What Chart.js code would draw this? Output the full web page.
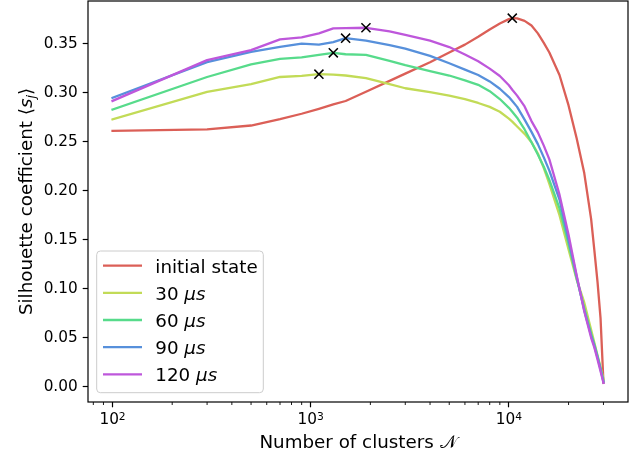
<!DOCTYPE html>
<html>
<head>
<meta charset="utf-8">
<script src="https://cdn.jsdelivr.net/npm/chart.js@4.4.1/dist/chart.umd.min.js"></script>
<style>
  html, body { margin: 0; padding: 0; background: #fff; }
  #wrap { width: 638px; height: 457px; }
</style>
</head>
<body>
<div id="wrap"><canvas id="c" width="638" height="457"></canvas></div>
<script>
// Number of clusters at which the silhouette coefficient was evaluated
const clusters = [100, 300, 500, 700, 900, 1100, 1300, 1500, 1900, 2500, 3000, 4000, 5000,
  6000, 7000, 8000, 9000, 10000, 10400, 11000, 12000, 13000, 14000, 15000, 16000, 18000,
  20000, 22000, 24000, 26000, 27000, 28000, 29000, 30000];

// Mean silhouette coefficient <s_j> per state (null = not evaluated)
const initialState = [0.261, 0.2625, 0.2665, 0.273, 0.2785, 0.2835, 0.288, 0.2915, 0.301, 0.312,
  0.3194, 0.331, 0.341, 0.349, 0.357, 0.3645, 0.3705, 0.375, 0.376, 0.3757, 0.3732, 0.3685,
  0.3605, 0.3508, 0.341, 0.318, 0.287, 0.253, 0.218, 0.171, 0.139, 0.107, 0.070, 0.004];
const us30 = [0.2727, 0.3008, 0.3087, 0.316, 0.3172, 0.3189, 0.3185, 0.3175, 0.3148, 0.3088,
  0.3045, 0.3005, 0.297, 0.2935, 0.2895, 0.2855, 0.2805, 0.2735, 0.2705, 0.2655, 0.258, 0.2495,
  0.238, 0.223, 0.207, 0.175, 0.140, 0.109, 0.086, null, null, null, null, 0.008];
const us60 = [0.2828, 0.316, 0.3288, 0.3345, 0.336, 0.3385, 0.3406, 0.3392, 0.3385, 0.3325,
  0.328, 0.322, 0.3175, 0.3125, 0.308, 0.3015, 0.2935, 0.2845, 0.2805, 0.2745, 0.2625, 0.2495,
  0.237, 0.2245, 0.211, 0.182, 0.146, 0.110, 0.080, 0.054, 0.043, 0.031, 0.019, 0.006];
const us90 = [0.2947, 0.3311, 0.3416, 0.3467, 0.35, 0.349, 0.3515, 0.3556, 0.353, 0.3485,
  0.345, 0.3375, 0.330, 0.3235, 0.318, 0.3115, 0.304, 0.2955, 0.2915, 0.2855, 0.2725, 0.260,
  0.2475, 0.234, 0.2205, 0.191, 0.150, 0.112, 0.078, 0.052, 0.0415, 0.030, 0.018, 0.005];
const us120 = [0.2916, 0.3332, 0.3434, 0.3543, 0.3563, 0.3605, 0.3655, 0.3658, 0.3662, 0.3625,
  0.359, 0.353, 0.3465, 0.339, 0.332, 0.3245, 0.317, 0.3075, 0.303, 0.297, 0.286, 0.271,
  0.2595, 0.246, 0.232, 0.196, 0.155, 0.113, 0.077, 0.050, 0.040, 0.028, 0.016, 0.004];

const seriesNames = ['initial state', '30 ', '60 ', '90 ', '120 '];
const seriesUnits = ['', 'μs', 'μs', 'μs', 'μs'];
const seriesValues = [initialState, us30, us60, us90, us120];
const seriesColors = ['#db5f57', '#c2db57', '#57db8b', '#5790db', '#be57db'];

// Axis ticks
const xMajorTicks = [100, 1000, 10000];
const xMajorExp = ['2', '3', '4'];
const xMinorTicks = [80, 90, 200, 300, 400, 500, 600, 700, 800, 900, 2000, 3000, 4000, 5000,
  6000, 7000, 8000, 9000, 20000, 30000];
const yTicks = [0.00, 0.05, 0.10, 0.15, 0.20, 0.25, 0.30, 0.35];

const X_MIN = 75.2, X_MAX = 39900;
const Y_MIN = -0.0155, Y_MAX = 0.3935;
const FONT = "'DejaVu Sans'";
const TICK_PX = 15.3, LABEL_PX = 18.3;
const PLOT_TOP = 1;

function toPoints(vals) {
  return clusters.map((n, i) => ({ x: n, y: vals[i] })).filter(p => p.y !== null);
}

// maximum of each curve, marked with a cross
const maxima = seriesValues.map(vals => {
  let best = 0;
  vals.forEach((v, i) => { if (v !== null && v > vals[best]) best = i; });
  return { x: clusters[best], y: vals[best] };
});

const datasets = seriesValues.map((vals, k) => ({
  label: seriesNames[k] + seriesUnits[k],
  data: toPoints(vals),
  borderColor: seriesColors[k],
  backgroundColor: seriesColors[k],
  borderWidth: 2.3,
  pointRadius: 0,
  tension: 0,
  fill: false,
  borderJoinStyle: 'round',
  borderCapStyle: 'square',
  order: 5 - k
}));
datasets.push({
  label: 'maxima',
  data: maxima,
  showLine: false,
  pointStyle: 'crossRot',
  pointRadius: 6.4,
  pointBorderColor: '#000',
  pointBorderWidth: 1.5,
  borderColor: '#000',
  order: 0
});

function drawParts(ctx, parts, x, y) {
  // draws a run of text pieces centred on x, baseline at y
  let total = 0;
  parts.forEach(p => { ctx.font = p.font; p.w = ctx.measureText(p.t).width; total += p.w; });
  let cx = x - total / 2;
  parts.forEach(p => {
    ctx.font = p.font;
    ctx.fillText(p.t, cx, y + (p.dy || 0));
    cx += p.w;
  });
}

// keep the plot area flush with the top of the canvas
const pinArea = {
  id: 'pinArea',
  afterLayout(chart) {
    const ys = chart.scales.y;
    const a = chart.chartArea;
    ys.top = PLOT_TOP;
    ys.height = ys.bottom - PLOT_TOP;
    ys.configure();
    a.top = PLOT_TOP;
    a.height = a.bottom - PLOT_TOP;
  }
};

const decorations = {
  id: 'decorations',
  afterDraw(chart) {
    const ctx = chart.ctx;
    const a = chart.chartArea;
    const xs = chart.scales.x;
    ctx.save();

    // frame
    ctx.strokeStyle = '#000';
    ctx.lineWidth = 1.2;
    ctx.strokeRect(a.left, a.top, a.right - a.left, a.bottom - a.top);

    // minor x ticks
    ctx.lineWidth = 0.9;
    xMinorTicks.forEach(v => {
      const px = xs.getPixelForValue(v);
      ctx.beginPath();
      ctx.moveTo(px, a.bottom);
      ctx.lineTo(px, a.bottom + 3);
      ctx.stroke();
    });

    // major x tick labels 10^n
    ctx.fillStyle = '#000';
    ctx.textAlign = 'left';
    ctx.textBaseline = 'alphabetic';
    xMajorTicks.forEach((v, i) => {
      const px = xs.getPixelForValue(v);
      drawParts(ctx, [
        { t: '10', font: `${TICK_PX}px ${FONT}` },
        { t: xMajorExp[i], font: `${TICK_PX * 0.7}px ${FONT}`, dy: -4.5 }
      ], px, 424);
    });

    // x axis title
    drawParts(ctx, [
      { t: 'Number of clusters ', font: `${LABEL_PX}px ${FONT}` },
      { t: '𝒩', font: `${LABEL_PX}px ${FONT}` }
    ], (a.left + a.right) / 2, 448);

    // y axis title
    ctx.save();
    ctx.translate(31.7, (a.top + a.bottom) / 2);
    ctx.rotate(-Math.PI / 2);
    drawParts(ctx, [
      { t: 'Silhouette coefficient ', font: `${LABEL_PX}px ${FONT}` },
      { t: '⟨', font: `${LABEL_PX}px ${FONT}` },
      { t: 's', font: `italic ${LABEL_PX}px ${FONT}` },
      { t: 'j', font: `italic ${LABEL_PX * 0.7}px ${FONT}`, dy: 3.5 },
      { t: '⟩', font: `${LABEL_PX}px ${FONT}` }
    ], 0, 0);
    ctx.restore();

    // legend
    const L = { x: 96.7, y: 251, w: 166.6, h: 141.7, r: 3.7 };
    ctx.beginPath();
    ctx.roundRect(L.x, L.y, L.w, L.h, L.r);
    ctx.fillStyle = 'rgba(255,255,255,0.8)';
    ctx.fill();
    ctx.strokeStyle = '#cccccc';
    ctx.lineWidth = 1;
    ctx.stroke();
    seriesNames.forEach((name, k) => {
      const ry = 265.7 + k * 27.15;
      ctx.strokeStyle = seriesColors[k];
      ctx.lineWidth = 2.3;
      ctx.lineCap = 'butt';
      ctx.beginPath();
      ctx.moveTo(103, ry);
      ctx.lineTo(142, ry);
      ctx.stroke();
      ctx.fillStyle = '#000';
      ctx.textAlign = 'left';
      let tx = 155.3;
      ctx.font = `${LABEL_PX}px ${FONT}`;
      ctx.fillText(name, tx, ry + 7);
      tx += ctx.measureText(name).width;
      if (seriesUnits[k]) {
        ctx.font = `italic ${LABEL_PX}px ${FONT}`;
        ctx.fillText(seriesUnits[k], tx, ry + 7);
      }
    });

    ctx.restore();
  }
};

new Chart(document.getElementById('c'), {
  type: 'line',
  data: { datasets },
  options: {
    responsive: false,
    devicePixelRatio: 1,
    animation: false,
    layout: { padding: { top: 1, right: 10, left: 0, bottom: 0 } },
    plugins: { legend: { display: false }, tooltip: { enabled: false } },
    scales: {
      x: {
        type: 'logarithmic',
        min: X_MIN, max: X_MAX,
        bounds: 'data',
        afterBuildTicks: s => { s.ticks = xMajorTicks.map(v => ({ value: v, major: true })); },
        afterFit: s => { s.height = 55; s.paddingLeft = 0; s.paddingRight = 0; },
        ticks: { callback: () => '', autoSkip: false, maxRotation: 0, font: { family: FONT, size: TICK_PX } },
        grid: { drawOnChartArea: false, drawTicks: true, tickLength: 5.3, tickColor: '#000', tickWidth: 1.2 },
        border: { display: false }
      },
      y: {
        type: 'linear',
        min: Y_MIN, max: Y_MAX,
        afterBuildTicks: s => { s.ticks = yTicks.map(v => ({ value: v })); },
        afterFit: s => { s.width = 88; s.paddingTop = 0; s.paddingBottom = 0; },
        ticks: {
          callback: v => Number(v).toFixed(2),
          color: '#000', padding: 5, autoSkip: false,
          font: { family: FONT, size: TICK_PX }
        },
        grid: { drawOnChartArea: false, drawTicks: true, tickLength: 5.3, tickColor: '#000', tickWidth: 1.2 },
        border: { display: false }
      }
    }
  },
  plugins: [pinArea, decorations]
});
</script>
</body>
</html>
